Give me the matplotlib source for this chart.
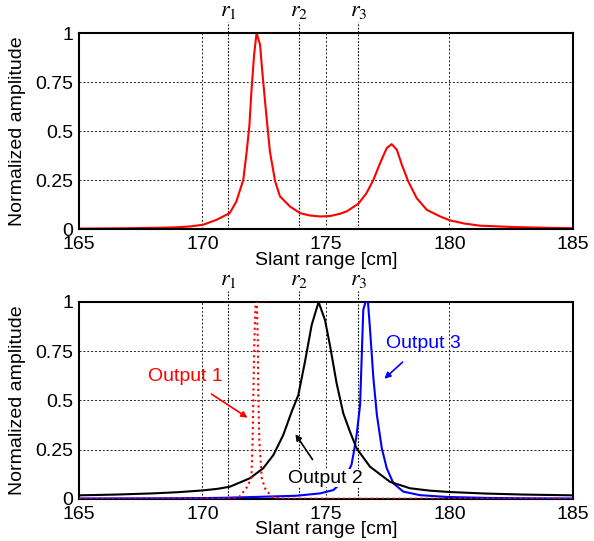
import matplotlib.pyplot as plt

plt.rcParams['font.family'] = ['Liberation Sans', 'DejaVu Sans']
plt.rcParams['mathtext.fontset'] = 'stix'

# top panel: received signal
top_x = [165.0, 166.0, 167.0, 168.0, 168.5, 169.0, 169.5, 170.03, 170.57, 171.1,
         171.37, 171.65, 171.79, 171.9, 171.98, 172.09, 172.19, 172.33, 172.43, 172.57,
         172.73, 172.94, 173.14, 173.54, 173.95, 174.35, 174.76, 175.16, 175.57, 175.84,
         176.31, 176.64, 176.92, 177.19, 177.46, 177.66, 177.87, 178.07, 178.33, 178.67,
         179.08, 179.62, 180.02, 180.6, 181.23, 182.6, 184.0, 185.0]
top_y = [0.002, 0.003, 0.004, 0.006, 0.007, 0.009, 0.013, 0.022, 0.047, 0.081,
         0.14, 0.25, 0.395, 0.53, 0.70, 0.89, 1.0, 0.94, 0.79, 0.60,
         0.395, 0.243, 0.166, 0.115, 0.081, 0.069, 0.064, 0.066, 0.078, 0.09,
         0.129, 0.183, 0.251, 0.336, 0.413, 0.433, 0.404, 0.328, 0.243, 0.158,
         0.098, 0.064, 0.044, 0.028, 0.017, 0.01, 0.006, 0.004]

# bottom panel: three outputs
out1_x = [165.0, 171.0, 171.5, 171.77, 171.98, 172.03, 172.06, 172.1, 172.15,
          172.2, 172.24, 172.26, 172.3, 172.4, 172.53, 172.8, 173.2, 185.0]
out1_y = [0.0, 0.0, 0.01, 0.053, 0.104, 0.3, 0.527, 0.8, 1.0,
          1.0, 0.8, 0.527, 0.3, 0.104, 0.053, 0.01, 0.0, 0.0]

out2_x = [165.0, 166.5, 168.0, 169.0, 170.0, 170.6, 171.11, 171.92, 172.46, 172.87,
          173.27, 173.61, 173.88, 174.15, 174.42, 174.7, 174.96, 175.16, 175.43,
          175.7, 175.97, 176.24, 176.78, 177.59, 178.4, 179.2, 180.0, 181.5,
          183.0, 185.0]
out2_y = [0.017, 0.021, 0.027, 0.033, 0.042, 0.05, 0.061, 0.104, 0.155, 0.222,
          0.324, 0.442, 0.527, 0.697, 0.883, 1.0, 0.908, 0.78, 0.587,
          0.434, 0.341, 0.256, 0.163, 0.086, 0.053, 0.041, 0.034, 0.026,
          0.021, 0.017]

out3_x = [165.0, 168.0, 170.0, 171.0, 172.46, 173.81, 174.76, 175.3, 175.7, 176.03,
          176.13, 176.24, 176.38, 176.44, 176.51, 176.6, 176.7, 176.78, 176.92,
          177.06, 177.26, 177.46, 177.73, 178.13, 178.8, 179.88, 181.5, 183.0,
          185.0]
out3_y = [0.001, 0.002, 0.003, 0.005, 0.01, 0.015, 0.027, 0.044, 0.09, 0.171,
          0.239, 0.324, 0.476, 0.697, 0.96, 1.0, 1.0, 0.866, 0.612,
          0.426, 0.256, 0.155, 0.078, 0.036, 0.018, 0.009, 0.004, 0.002,
          0.001]

r_pos = [171.05, 173.92, 176.31]
r_labels = [r'$r_1$', r'$r_2$', r'$r_3$']
xticks = [165, 170, 175, 180, 185]
yticks = [0, 0.25, 0.5, 0.75, 1]
ytick_labels = ['0', '0.25', '0.5', '0.75', '1']

fig = plt.figure(figsize=(5.94, 5.41), dpi=100)
ax1 = fig.add_axes([0.133, 0.5767, 0.8316, 0.3623])
ax2 = fig.add_axes([0.133, 0.0782, 0.8316, 0.3636])


def style(ax):
    ax.set_xlim(165, 185)
    ax.set_ylim(0, 1)
    ax.set_xticks(xticks)
    ax.set_yticks(yticks)
    ax.set_yticklabels(ytick_labels)
    ax.tick_params(length=0, labelsize=14)
    ax.tick_params(axis='x', pad=5)
    ax.tick_params(axis='y', pad=4)
    ax.grid(True, color='#222222', linestyle=(0, (2, 2)), linewidth=0.7)
    for s in ax.spines.values():
        s.set_linewidth(1.5)
    ax.set_xlabel('Slant range [cm]', fontsize=14, labelpad=-1)
    ax.set_ylabel('Normalized amplitude', fontsize=14)
    ax.yaxis.set_label_coords(-0.108, 0.5)
    for rp, rl in zip(r_pos, r_labels):
        ax.plot([rp, rp], [0, 1.058], color='k', linestyle=(0, (1.5, 1.5)),
                linewidth=0.8, clip_on=False, zorder=1)
        ax.text(rp, 1.06, rl, ha='center', va='bottom', fontsize=16)


style(ax1)
ax1.plot(top_x, top_y, color='red', linewidth=1.5)

style(ax2)
ax2.plot(out3_x, out3_y, color='blue', linewidth=1.5, zorder=3)
ax2.plot(out2_x, out2_y, color='black', linewidth=1.5, zorder=3)
ax2.plot(out1_x, out1_y, color='red', linewidth=1.5, linestyle=':', zorder=3)

ax2.annotate('Output 1', xy=(171.92, 0.404), xytext=(169.29, 0.62),
             color='red', fontsize=14, ha='center', va='center',
             arrowprops=dict(arrowstyle='-|>', color='red', lw=1.2,
                             mutation_scale=9, shrinkA=8))
ax2.annotate('Output 2', xy=(173.7, 0.34), xytext=(174.96, 0.105),
             color='black', fontsize=14, ha='center', va='center', zorder=5,
             bbox=dict(facecolor='white', edgecolor='none', pad=0.5),
             arrowprops=dict(arrowstyle='-|>', color='black', lw=1.2,
                             mutation_scale=9, shrinkA=8))
ax2.annotate('Output 3', xy=(177.28, 0.6), xytext=(178.93, 0.79),
             color='blue', fontsize=14, ha='center', va='center',
             arrowprops=dict(arrowstyle='-|>', color='blue', lw=1.2,
                             mutation_scale=9, shrinkA=8))

plt.savefig('out.png')
